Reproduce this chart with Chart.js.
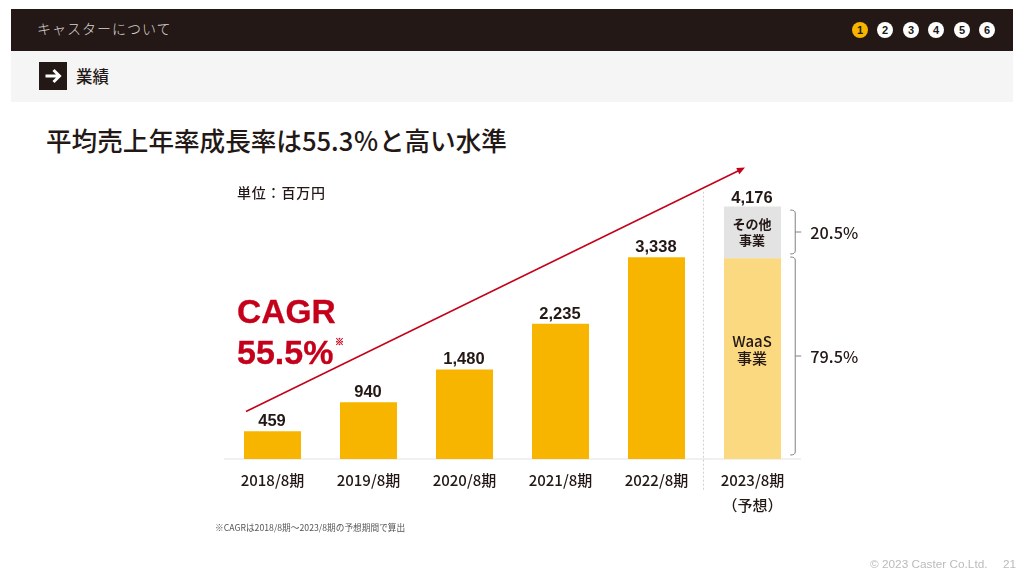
<!DOCTYPE html>
<html lang="ja">
<head>
<meta charset="utf-8">
<title>業績</title>
<script src="https://cdn.jsdelivr.net/npm/chart.js@4/dist/chart.umd.min.js"></script>
<style>
  html, body { margin: 0; padding: 0; background: #fff; }
  body { width: 1024px; height: 576px; position: relative; overflow: hidden; font-family: "Noto Sans CJK JP", sans-serif; color: #231815; }
  #chart { position: absolute; left: 0; top: 0; }
  .abs { position: absolute; white-space: nowrap; line-height: 1; }
  #topBar { position: absolute; left: 11px; top: 9px; width: 1002px; height: 42px; background: #231815; }
  #subBar { position: absolute; left: 11px; top: 51px; width: 1002px; height: 51px; background: #f5f5f5; }
  #arrowBox { position: absolute; left: 39px; top: 62px; width: 28px; height: 28px; background: #231815; }
  .dot { position: absolute; top: 22px; width: 16px; height: 16px; border-radius: 50%; background: #fff; font: bold 11px/16px "Liberation Sans", sans-serif; text-align: center; }
  .cagr { font-family: "Liberation Sans", sans-serif; font-weight: bold; color: #c4001a; -webkit-text-stroke: .3px #c4001a; }
</style>
</head>
<body>
<div id="topBar"></div>
<div id="subBar"></div>
<div class="abs" style="left:37px;top:21px;font-size:14px;letter-spacing:1px;color:#d8d4d2;font-weight:300">キャスターについて</div>
<div id="dots"></div>
<div id="arrowBox">
  <svg width="28" height="28" viewBox="0 0 28 28"><path d="M6.5 14H20M14.5 8l6 6-6 6" fill="none" stroke="#fff" stroke-width="3"/></svg>
</div>
<div class="abs" style="left:76px;top:68px;font-size:16.5px;font-weight:500">業績</div>
<div class="abs" style="left:46px;top:127px;font-size:25.6px;font-weight:500">平均売上年率成長率は55.3％と高い水準</div>
<canvas id="chart" width="1024" height="576"></canvas>
<div class="abs" style="left:237px;top:185px;font-size:14px;font-weight:500;letter-spacing:.8px">単位：百万円</div>
<div class="abs cagr" style="left:237px;top:295px;font-size:33.5px">CAGR</div>
<div class="abs cagr" style="left:237px;top:335px;font-size:34px">55.5%</div>
<div class="abs" style="left:335px;top:337px;font-size:9px;color:#c4001a;font-weight:900;-webkit-text-stroke:.4px #c4001a">※</div>
<div class="abs" style="left:215px;top:524px;font-size:8.7px;color:#555">※CAGRは2018/8期～2023/8期の予想期間で算出</div>
<div class="abs" style="left:870px;top:557px;font:11.8px 'Liberation Sans',sans-serif;color:#bbb">© 2023 Caster Co.Ltd.</div>
<div class="abs" style="left:1003px;top:557px;font:11.8px 'Liberation Sans',sans-serif;color:#bbb">21</div>

<script>
const categories = ["2018/8期", "2019/8期", "2020/8期", "2021/8期", "2022/8期", ["2023/8期", "（予想）"]];
const actualValues = [459, 940, 1480, 2235, 3338, null];
const waasValues = [null, null, null, null, null, 3320];
const otherValues = [null, null, null, null, null, 856];
const totalLabels = ["459", "940", "1,480", "2,235", "3,338", "4,176"];
const shareLabels = ["79.5%", "20.5%"];
const arrowValues = [785, 4820]; // arrow start and end on the value axis
const navNumbers = [1, 2, 3, 4, 5, 6];

// header step markers
const dotLefts = [852, 877, 903, 928, 954, 979];
const dots = document.getElementById("dots");
navNumbers.forEach((n, i) => {
    const d = document.createElement("div");
    d.className = "dot";
    d.style.left = dotLefts[i] + "px";
    if (i === 0) d.style.background = "#f8b500";
    d.textContent = n;
    dots.appendChild(d);
});

const labelFont = 'bold 16.5px "Liberation Sans", sans-serif';
const jpFont = '"Noto Sans CJK JP", sans-serif';

function drawBracket(ctx, x, top, bottom) {
    const mid = (top + bottom) / 2;
    ctx.beginPath();
    ctx.moveTo(x - 5, top);
    ctx.quadraticCurveTo(x, top, x, top + 3);
    ctx.lineTo(x, bottom - 3);
    ctx.quadraticCurveTo(x, bottom, x - 5, bottom);
    ctx.moveTo(x, mid);
    ctx.lineTo(x + 6, mid);
    ctx.stroke();
    return mid;
}

const overlayPlugin = {
    id: "overlay",
    afterDatasetsDraw(chart) {
        const { ctx, scales: { x, y } } = chart;
        const step = x.getPixelForValue(1) - x.getPixelForValue(0);
        ctx.save();

        // total labels above each bar
        ctx.font = labelFont;
        ctx.fillStyle = "#231815";
        ctx.textAlign = "center";
        ctx.textBaseline = "alphabetic";
        totalLabels.forEach((t, i) => {
            const v = i === 5 ? waasValues[5] + otherValues[5] : actualValues[i];
            ctx.fillText(t, x.getPixelForValue(i) - 0.5, y.getPixelForValue(v) - (i === 5 ? 3 : 5));
        });

        // labels inside the forecast bar
        const cx = x.getPixelForValue(5) - 0.5;
        const midOther = y.getPixelForValue(waasValues[5] + otherValues[5] / 2);
        const midWaas = y.getPixelForValue(waasValues[5] / 2);
        ctx.textBaseline = "middle";
        ctx.font = "700 13px " + jpFont;
        ctx.fillText("その他", cx, midOther - 8);
        ctx.fillText("事業", cx, midOther + 8);
        ctx.font = "500 15px " + jpFont;
        ctx.fillText("WaaS", cx, midWaas - 17);
        ctx.fillText("事業", cx, midWaas);

        // dashed separator before the forecast
        const sepX = x.getPixelForValue(4.49);
        ctx.strokeStyle = "#cfcfcf";
        ctx.lineWidth = 1;
        ctx.setLineDash([2, 2]);
        ctx.beginPath();
        ctx.moveTo(sepX, y.getPixelForValue(4420));
        ctx.lineTo(sepX, y.bottom + 31);
        ctx.stroke();
        ctx.setLineDash([]);

        // brackets and share labels
        const bx = x.getPixelForValue(5) + step * 0.445;
        ctx.strokeStyle = "#808080";
        const midTop = drawBracket(ctx, bx, y.getPixelForValue(4117), y.getPixelForValue(3390));
        const midLow = drawBracket(ctx, bx, y.getPixelForValue(3340), y.getPixelForValue(66));
        ctx.font = "500 16.3px " + jpFont;
        ctx.textAlign = "left";
        ctx.fillText(shareLabels[1], bx + 15, midTop + 1);
        ctx.fillText(shareLabels[0], bx + 15, midLow + 1);

        // CAGR arrow
        const x0 = x.getPixelForValue(0) - 26.5;
        const x1 = x.getPixelForValue(5) - 7.5;
        const y0 = y.getPixelForValue(arrowValues[0]);
        const y1 = y.getPixelForValue(arrowValues[1]);
        const a = Math.atan2(y1 - y0, x1 - x0);
        ctx.strokeStyle = "#c4001a";
        ctx.fillStyle = "#c4001a";
        ctx.lineWidth = 1.5;
        ctx.beginPath();
        ctx.moveTo(x0, y0);
        ctx.lineTo(x1 - 5 * Math.cos(a), y1 - 5 * Math.sin(a));
        ctx.stroke();
        ctx.beginPath();
        ctx.moveTo(x1, y1);
        ctx.lineTo(x1 - 8 * Math.cos(a) + 3.5 * Math.sin(a), y1 - 8 * Math.sin(a) - 3.5 * Math.cos(a));
        ctx.lineTo(x1 - 8 * Math.cos(a) - 3.5 * Math.sin(a), y1 - 8 * Math.sin(a) + 3.5 * Math.cos(a));
        ctx.closePath();
        ctx.fill();
        ctx.restore();
    }
};

const barOptions = { barPercentage: 1, categoryPercentage: 0.594, stack: "s" };

new Chart(document.getElementById("chart"), {
    type: "bar",
    data: {
        labels: categories,
        datasets: [
            { label: "売上", data: actualValues, backgroundColor: "#f8b500", ...barOptions },
            { label: "WaaS事業", data: waasValues, backgroundColor: "#fbd980", ...barOptions },
            { label: "その他事業", data: otherValues, backgroundColor: "#e3e3e3", ...barOptions }
        ]
    },
    options: {
        responsive: false,
        animation: false,
        layout: { padding: { left: 224.5, right: 223.5, top: 205, bottom: 0 } },
        plugins: { legend: { display: false }, tooltip: { enabled: false } },
        scales: {
            x: {
                stacked: true,
                grid: { display: false },
                border: { color: "#f0f0f0", width: 2 },
                ticks: {
                    color: "#231815",
                    font: { family: jpFont, size: 15, weight: "500", lineHeight: 1.67 },
                    padding: 1,
                    maxRotation: 0,
                    autoSkip: false
                },
                afterFit(scale) { scale.height = 117; }
            },
            y: { stacked: true, display: false, min: 0, max: 4200 }
        }
    },
    plugins: [overlayPlugin]
});
</script>
</body>
</html>
